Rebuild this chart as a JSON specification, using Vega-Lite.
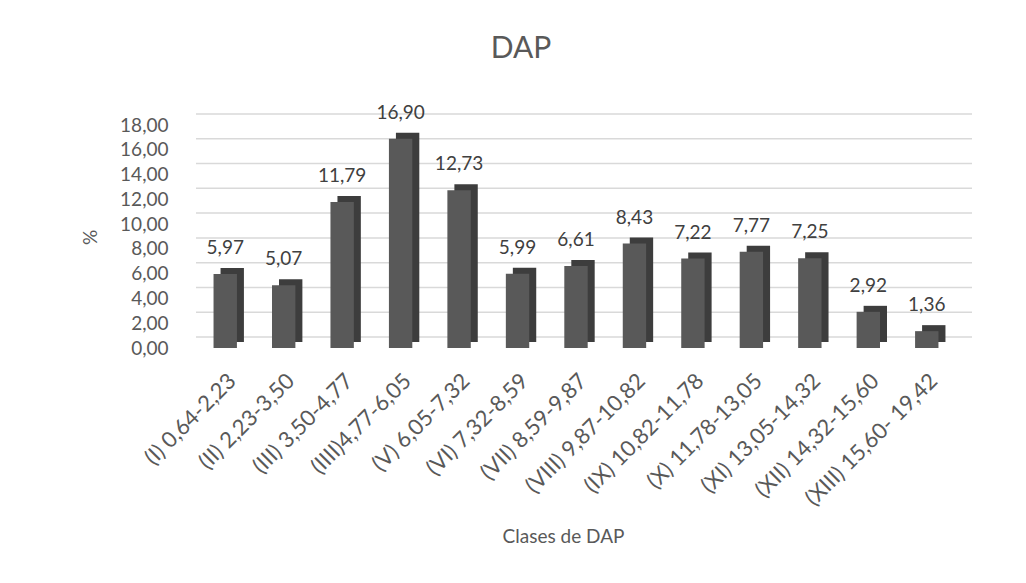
{
  "$schema": "https://vega.github.io/schema/vega-lite/v6.json",
  "width": 760,
  "height": 223,
  "autosize": "none",
  "padding": {"left": 196, "top": 125, "right": 70, "bottom": 235},
  "background": "white",
  "config": {
    "locale": {"number": {"decimal": ",", "thousands": ".", "grouping": [3], "currency": ["", " €"]}},
    "font": "Lato",
    "view": {"stroke": null},
    "title": {"font": "Lato", "fontSize": 30, "fontWeight": "normal", "color": "#595959"}
  },
  "title": {"text": "DAP", "anchor": "middle", "dx": -55, "offset": 40},
  "datasets": {
    "bars": [
      {"clase": "(I) 0,64-2,23", "pct": 5.97},
      {"clase": "(II) 2,23-3,50", "pct": 5.07},
      {"clase": "(III) 3,50-4,77", "pct": 11.79},
      {"clase": "(IIII)4,77-6,05", "pct": 16.90},
      {"clase": "(V) 6,05-7,32", "pct": 12.73},
      {"clase": "(VI) 7,32-8,59", "pct": 5.99},
      {"clase": "(VII) 8,59-9,87", "pct": 6.61},
      {"clase": "(VIII) 9,87-10,82", "pct": 8.43},
      {"clase": "(IX) 10,82-11,78", "pct": 7.22},
      {"clase": "(X) 11,78-13,05", "pct": 7.77},
      {"clase": "(XI) 13,05-14,32", "pct": 7.25},
      {"clase": "(XII) 14,32-15,60", "pct": 2.92},
      {"clase": "(XIII) 15,60- 19,42", "pct": 1.36}
    ],
    "grid": [
      {"v": 0}, {"v": 2}, {"v": 4}, {"v": 6}, {"v": 8}, {"v": 10},
      {"v": 12}, {"v": 14}, {"v": 16}, {"v": 18}
    ]
  },
  "resolve": {"axis": {"y": "independent"}},
  "layer": [
    {
      "data": {"name": "grid"},
      "mark": {"type": "rule", "color": "#d9d9d9", "strokeWidth": 1.5, "yOffset": -11, "xOffset": 16},
      "encoding": {
        "y": {
          "field": "v", "type": "quantitative",
          "scale": {"domain": [0, 18], "nice": false},
          "axis": {
            "title": "%", "format": ".2f", "values": [0, 2, 4, 6, 8, 10, 12, 14, 16, 18],
            "labelFontSize": 19, "labelColor": "#595959", "labelFont": "Lato", "labelPadding": 28,
            "labelOverlap": false, "domain": false, "ticks": false, "grid": false,
            "titleFontSize": 19, "titleFontWeight": "normal", "titleColor": "#595959", "titleFont": "Lato",
            "titleX": -106, "titleY": 112, "titleAngle": -90, "titleBaseline": "middle", "titleAlign": "center"
          }
        }
      }
    },
    {
      "data": {"name": "bars"},
      "layer": [
        {
          "mark": {"type": "bar", "color": "#3d3d3d", "xOffset": 7, "yOffset": -6},
          "encoding": {
            "x": {
              "field": "clase", "type": "nominal", "sort": null,
              "scale": {"paddingInner": 0.6, "paddingOuter": 0.3},
              "axis": {
                "title": "Clases de DAP", "labelAngle": -45, "labelFontSize": 22, "labelColor": "#595959",
                "labelFont": "Lato", "labelPadding": 22, "domain": false, "ticks": false, "labelOverlap": false,
                "titleFontSize": 19, "titleFontWeight": "normal", "titleColor": "#595959", "titleFont": "Lato",
                "titleX": 367, "titleY": 188, "titleBaseline": "middle", "titleAlign": "center"
              }
            },
            "y": {"field": "pct", "type": "quantitative", "axis": null}
          }
        },
        {
          "mark": {"type": "bar", "color": "#595959"},
          "encoding": {
            "x": {"field": "clase", "type": "nominal", "sort": null},
            "y": {"field": "pct", "type": "quantitative", "axis": null}
          }
        },
        {
          "mark": {"type": "text", "fontSize": 19, "color": "#404040", "baseline": "bottom", "dy": -16, "font": "Lato"},
          "encoding": {
            "x": {"field": "clase", "type": "nominal", "sort": null},
            "y": {"field": "pct", "type": "quantitative", "axis": null},
            "text": {"field": "pct", "type": "quantitative", "format": ".2f"}
          }
        }
      ]
    }
  ]
}
